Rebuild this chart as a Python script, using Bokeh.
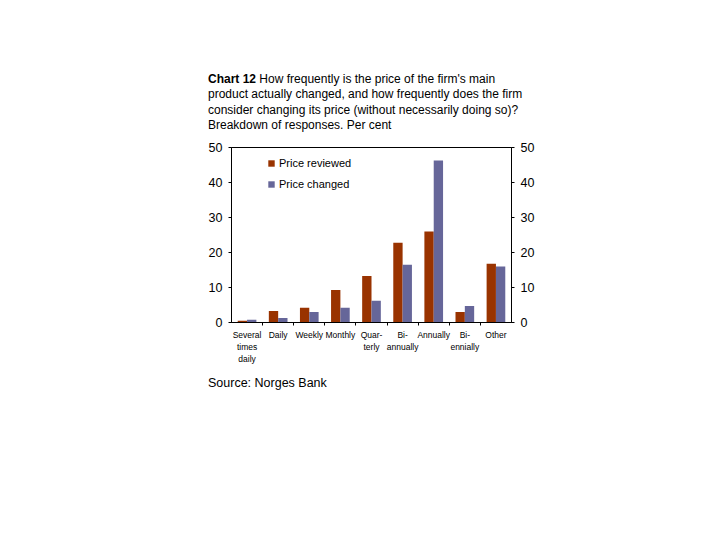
from bokeh.plotting import figure
from bokeh.models import ColumnDataSource, FixedTicker, LinearAxis, Range1d, Legend, LegendItem, Div
from bokeh.layouts import column
from bokeh.transform import dodge
from bokeh.embed import file_html
from bokeh.resources import INLINE

categories = ["Several\ntimes\ndaily", "Daily", "Weekly", "Monthly", "Quar-\nterly",
              "Bi-\nannually", "Annually", "Bi-\nennially", "Other"]
price_reviewed = [0.5, 3.3, 4.2, 9.3, 13.3, 22.8, 26.0, 3.0, 16.8]
price_changed = [0.8, 1.3, 3.0, 4.2, 6.2, 16.5, 46.3, 4.7, 16.0]
y_ticks = [0, 10, 20, 30, 40, 50]

title_bold = "Chart 12"
title_lines = ["How frequently is the price of the firm's main",
               "product actually changed, and how frequently does the firm",
               "consider changing its price (without necessarily doing so)?",
               "Breakdown of responses. Per cent"]
source_text = "Source: Norges Bank"

FONT = "Liberation Sans"
BROWN = "#993300"
PURPLE = "#666699"

xs = list(range(len(categories)))
src = ColumnDataSource(dict(x=xs, reviewed=price_reviewed, changed=price_changed))

p = figure(frame_width=280, frame_height=175, output_backend="svg", toolbar_location=None,
           x_range=Range1d(-0.5, len(categories) - 0.5), y_range=Range1d(0, 50),
           min_border_left=231, min_border_top=13, min_border_right=180,
           min_border_bottom=53)
p.background_fill_color = "white"
p.border_fill_color = "white"
p.outline_line_color = "black"
p.outline_line_width = 1
p.grid.visible = False

r1 = p.vbar(x=dodge("x", -0.15, range=p.x_range), top="reviewed", width=0.3, source=src,
            fill_color=BROWN, line_color=None)
r2 = p.vbar(x=dodge("x", 0.15, range=p.x_range), top="changed", width=0.3, source=src,
            fill_color=PURPLE, line_color=None)

xa = p.xaxis[0]
xa.ticker = FixedTicker(ticks=xs, minor_ticks=[i + 0.5 for i in xs[:-1]])
xa.major_label_overrides = {i: c for i, c in enumerate(categories)}
xa.major_tick_out = 0
xa.major_tick_in = 0
xa.minor_tick_out = 3
xa.minor_tick_in = 0
xa.axis_line_color = "black"
xa.major_label_text_font = FONT
xa.major_label_text_font_size = "8.5px"
xa.major_label_text_color = "black"
xa.major_label_standoff = 4

ya = p.yaxis[0]
ra = LinearAxis()
p.add_layout(ra, "right")
for ax in (ya, ra):
    ax.ticker = FixedTicker(ticks=y_ticks)
    ax.major_tick_out = 3
    ax.major_tick_in = 0
    ax.minor_tick_out = 0
    ax.minor_tick_in = 0
    ax.axis_line_color = "black"
    ax.major_label_text_font = FONT
    ax.major_label_text_font_size = "12.5px"
    ax.major_label_text_color = "black"
    ax.major_label_standoff = 6

legend = Legend(items=[LegendItem(label="Price reviewed", renderers=[r1]),
                       LegendItem(label="Price changed", renderers=[r2])],
                location=(36, 132))
legend.background_fill_alpha = 0
legend.border_line_color = None
legend.label_text_font = FONT
legend.label_text_font_size = "11px"
legend.label_text_color = "black"
legend.glyph_width = 8
legend.glyph_height = 8
legend.spacing = 9
legend.padding = 4
legend.label_standoff = 4
p.add_layout(legend)

title_html = "<b>%s</b> %s" % (title_bold, "<br>".join(title_lines))
div_style = {"font-family": FONT, "font-size": "12px", "line-height": "15.3px",
             "color": "black", "white-space": "nowrap"}
title_div = Div(text=title_html, width=420, height=62, margin=(72, 0, 0, 208),
                styles=div_style)
source_div = Div(text=source_text, width=300, height=16, margin=(0, 0, 0, 208),
                 styles={"font-family": FONT, "font-size": "12.5px", "line-height": "16px",
                         "color": "black", "white-space": "nowrap"})

layout = column(title_div, p, source_div, spacing=0)
open("out.html", "w").write(file_html(layout, INLINE))
